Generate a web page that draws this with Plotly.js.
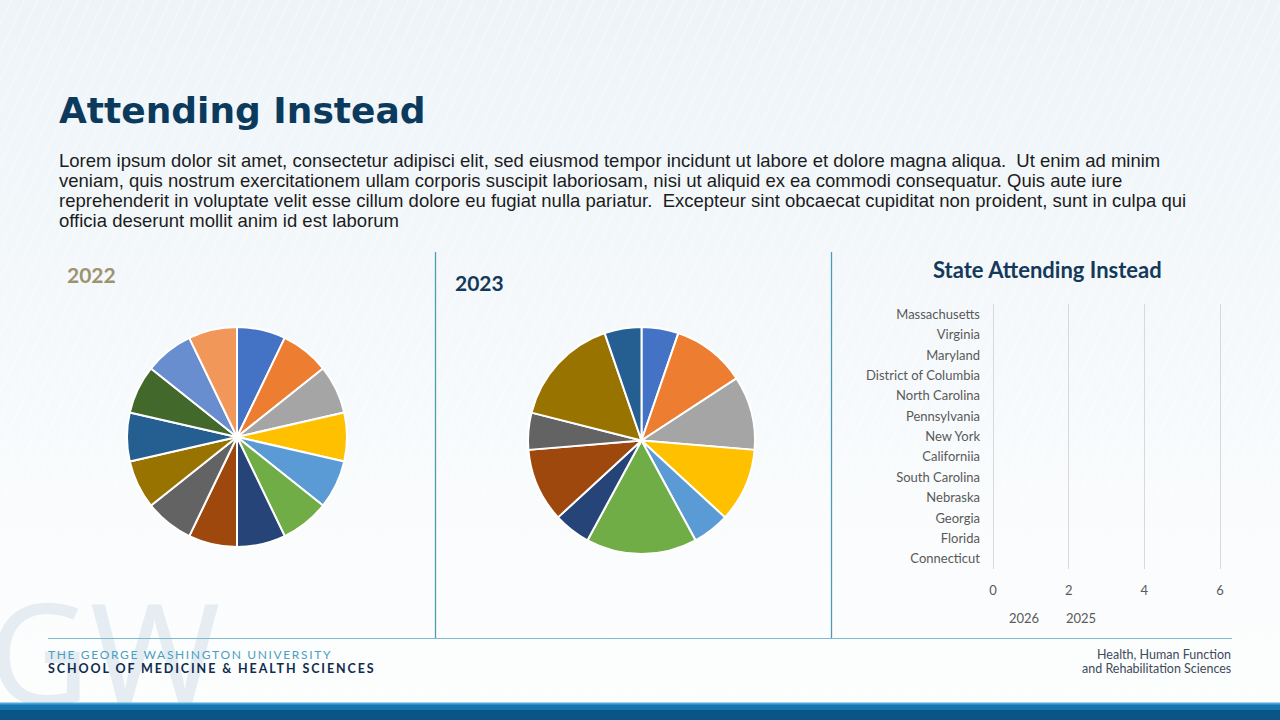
<!DOCTYPE html>
<html>
<head>
<meta charset="utf-8">
<script src="https://cdn.plot.ly/plotly-3.0.1.min.js"></script>
<style>
  html, body { margin: 0; padding: 0; }
  body {
    position: relative;
    width: 1280px; height: 720px; overflow: hidden;
    background:
      repeating-linear-gradient(115deg, rgba(255,255,255,0) 0px, rgba(255,255,255,0) 9px, rgba(255,255,255,0.35) 10px, rgba(255,255,255,0) 12px),
      linear-gradient(180deg, #edf4f8 0%, #f4f8fb 40%, #fafcfd 75%, #fdfefe 100%);
  }
  #wm {
    position: absolute; left: -12px; top: 581px; margin: 0;
    font-family: "Noto Sans", sans-serif; font-size: 140px; line-height: 1;
    color: #e5edf3; z-index: 0; user-select: none;
  }
  #chart { position: absolute; left: 0; top: 0; width: 1280px; height: 720px; z-index: 1; }
  .annotation[data-index="7"] text { letter-spacing: 1.65px; }
  .annotation[data-index="8"] text { letter-spacing: 1.9px; }
</style>
</head>
<body>
<div id="wm" aria-hidden="true">GW</div>
<div id="chart"></div>
<script>
// ---------- data ----------
const pieLabels2022 = ["Slice 1","Slice 2","Slice 3","Slice 4","Slice 5","Slice 6","Slice 7","Slice 8","Slice 9","Slice 10","Slice 11","Slice 12","Slice 13","Slice 14"];
const pieValues2022 = [1,1,1,1,1,1,1,1,1,1,1,1,1,1];
const pieLabels2023 = ["Slice 1","Slice 2","Slice 3","Slice 4","Slice 5","Slice 6","Slice 7","Slice 8","Slice 9","Slice 10","Slice 11"];
const pieValues2023 = [1,2,2,2,1,3,1,2,1,3,1];
const officeColors = ['#4472C4','#ED7D31','#A5A5A5','#FFC000','#5B9BD5','#70AD47','#264478','#9E480E','#636363','#997300','#255E91','#43682B','#698ED0','#F1975A'];

const states = ["Massachusetts","Virginia","Maryland","District of Columbia","North Carolina","Pennsylvania","New York","Californiia","South Carolina","Nebraska","Georgia","Florida","Connecticut"];
const seriesNames = ["2026","2025"];
const values2026 = [0,0,0,0,0,0,0,0,0,0,0,0,0];
const values2025 = [0,0,0,0,0,0,0,0,0,0,0,0,0];
const xTicks = [0,2,4,6];

const paragraphLines = [
  "Lorem ipsum dolor sit amet, consectetur adipisci elit, sed eiusmod tempor incidunt ut labore et dolore magna aliqua.  Ut enim ad minim",
  "veniam, quis nostrum exercitationem ullam corporis suscipit laboriosam, nisi ut aliquid ex ea commodi consequatur. Quis aute iure",
  "reprehenderit in voluptate velit esse cillum dolore eu fugiat nulla pariatur.  Excepteur sint obcaecat cupiditat non proident, sunt in culpa qui",
  "officia deserunt mollit anim id est laborum"
];

// ---------- helpers (pixel -> paper) ----------
const W = 1280, H = 720;
const px = v => v / W;
const py = v => 1 - v / H;

const navy = '#0c3a5c';
const lineCol = '#4f9bb5';
const calib = 'Lato, "Open Sans", sans-serif';

const traces = [
  {
    type: 'pie', labels: pieLabels2022, values: pieValues2022, sort: false,
    direction: 'clockwise', rotation: 0,
    marker: { colors: officeColors, line: { color: '#ffffff', width: 2 } },
    textinfo: 'none', hoverinfo: 'label+value', showlegend: false,
    domain: { x: [px(127), px(347)], y: [py(547), py(327)] }
  },
  {
    type: 'pie', labels: pieLabels2023, values: pieValues2023, sort: false,
    direction: 'clockwise', rotation: 0,
    marker: { colors: officeColors.slice(0, pieValues2023.length), line: { color: '#ffffff', width: 2 } },
    textinfo: 'none', hoverinfo: 'label+value', showlegend: false,
    domain: { x: [px(528), px(755)], y: [py(554), py(327)] }
  },
  {
    type: 'bar', orientation: 'h', name: seriesNames[0], y: states, x: values2026,
    marker: { color: 'rgba(0,0,0,0)' }, xaxis: 'x', yaxis: 'y', showlegend: false
  },
  {
    type: 'bar', orientation: 'h', name: seriesNames[1], y: states, x: values2025,
    marker: { color: 'rgba(0,0,0,0)' }, xaxis: 'x', yaxis: 'y', showlegend: false
  }
];

const ann = [];
// 0 title
ann.push({ text: 'Attending Instead', x: px(57), y: py(110), xref: 'paper', yref: 'paper', xanchor: 'left', yanchor: 'middle', showarrow: false,
  font: { family: '"DejaVu Sans", sans-serif', size: 36, color: navy, weight: 'bold' } });
// 1-4 paragraph lines
paragraphLines.forEach((t, i) => {
  ann.push({ text: t, x: px(57), y: py(160 + 20 * i), xref: 'paper', yref: 'paper', xanchor: 'left', yanchor: 'middle', showarrow: false,
    font: { family: '"Liberation Sans", Arial, sans-serif', size: 18.5, color: '#1c1c1c' } });
});
// 5 2022, 6 2023
ann.push({ text: '<b>2022</b>', x: px(65), y: py(274), xref: 'paper', yref: 'paper', xanchor: 'left', yanchor: 'middle', showarrow: false,
  font: { family: calib, size: 21, color: '#9b9470' } });
ann.push({ text: '<b>2023</b>', x: px(453), y: py(283), xref: 'paper', yref: 'paper', xanchor: 'left', yanchor: 'middle', showarrow: false,
  font: { family: calib, size: 21, color: '#14395a' } });
// 7, 8 footer left (letter-spaced via CSS)
ann.push({ text: 'THE GEORGE WASHINGTON UNIVERSITY', x: px(46), y: py(654), xref: 'paper', yref: 'paper', xanchor: 'left', yanchor: 'middle', align: 'left', showarrow: false,
  font: { family: calib, size: 12, color: '#4b9dc2' } });
ann.push({ text: '<b>SCHOOL OF MEDICINE &amp; HEALTH SCIENCES</b>', x: px(46), y: py(668), xref: 'paper', yref: 'paper', xanchor: 'left', yanchor: 'middle', align: 'left', showarrow: false,
  font: { family: calib, size: 12.5, color: '#0f2c4c', weight: 900 } });
// 9 chart title
ann.push({ text: '<b>State Attending Instead</b>', x: px(1047), y: py(269), xref: 'paper', yref: 'paper', xanchor: 'center', yanchor: 'middle', showarrow: false,
  font: { family: calib, size: 22, color: '#14395a' } });
// 10, 11 footer right
ann.push({ text: 'Health, Human Function', x: px(1233), y: py(654), xref: 'paper', yref: 'paper', xanchor: 'right', yanchor: 'middle', showarrow: false,
  font: { family: calib, size: 12.5, color: '#3d4b5a' } });
ann.push({ text: 'and Rehabilitation Sciences', x: px(1233), y: py(668), xref: 'paper', yref: 'paper', xanchor: 'right', yanchor: 'middle', showarrow: false,
  font: { family: calib, size: 12.5, color: '#3d4b5a' } });
// legend labels for the two series
ann.push({ text: seriesNames[0], x: px(1007), y: py(618), xref: 'paper', yref: 'paper', xanchor: 'left', yanchor: 'middle', showarrow: false,
  font: { family: calib, size: 13, color: '#595959' } });
ann.push({ text: seriesNames[1], x: px(1064), y: py(618), xref: 'paper', yref: 'paper', xanchor: 'left', yanchor: 'middle', showarrow: false,
  font: { family: calib, size: 13, color: '#595959' } });

const shapes = [
  { type: 'line', xref: 'paper', yref: 'paper', x0: px(435.5), x1: px(435.5), y0: py(252), y1: py(638), line: { color: lineCol, width: 1.3 } },
  { type: 'line', xref: 'paper', yref: 'paper', x0: px(831.5), x1: px(831.5), y0: py(252), y1: py(638), line: { color: lineCol, width: 1.3 } },
  { type: 'line', xref: 'paper', yref: 'paper', x0: px(48), x1: px(1232), y0: py(638.5), y1: py(638.5), line: { color: '#7dbad0', width: 1.2 } },
  // bottom bar
  { type: 'rect', xref: 'paper', yref: 'paper', x0: 0, x1: 1, y0: py(720), y1: py(703), line: { width: 0 }, fillcolor: '#0b5487', layer: 'above' },
  { type: 'rect', xref: 'paper', yref: 'paper', x0: 0, x1: 1, y0: py(710), y1: py(703), line: { width: 0 }, fillcolor: '#1476ae', layer: 'above' },
  { type: 'rect', xref: 'paper', yref: 'paper', x0: 0, x1: 1, y0: py(704.5), y1: py(702.5), line: { width: 0 }, fillcolor: '#4ea6d6', layer: 'above' }
];

const xMax = 6.03;
const layout = {
  width: W, height: H, autosize: false,
  margin: { l: 0, r: 0, t: 0, b: 0, pad: 0 },
  paper_bgcolor: 'rgba(0,0,0,0)', plot_bgcolor: 'rgba(0,0,0,0)',
  showlegend: false,
  barmode: 'group',
  xaxis: { domain: [px(993), px(993 + 227 * xMax / 6)], range: [0, xMax], tickvals: xTicks, showgrid: true, gridcolor: '#d9d9d9', gridwidth: 1,
    zeroline: true, zerolinecolor: '#d9d9d9', zerolinewidth: 1, showline: false, ticks: '', ticklabelstandoff: 12,
    tickfont: { family: calib, size: 13, color: '#595959' }, fixedrange: true },
  yaxis: { domain: [py(569), py(304)], type: 'category', autorange: 'reversed', showgrid: false, zeroline: false, showline: false,
    ticks: '', ticklabelstandoff: 12, tickfont: { family: calib, size: 13, color: '#595959' }, fixedrange: true },
  annotations: ann,
  shapes: shapes
};

Plotly.newPlot('chart', traces, layout, { displayModeBar: false, staticPlot: true });
</script>
</body>
</html>
